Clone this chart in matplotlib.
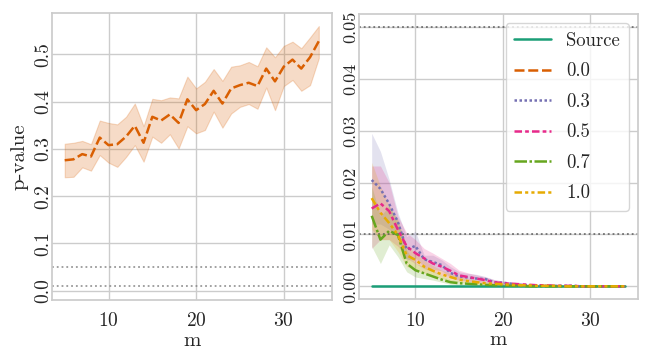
import matplotlib
matplotlib.use("Agg")
import matplotlib.pyplot as plt
import numpy as np
import seaborn as sns

# m values shared by every curve
m = list(range(5, 35))

# left panel: similarity 0.0 (mean p-value with confidence band)
p00 = [0.276, 0.278, 0.289, 0.284, 0.324, 0.308, 0.310, 0.326, 0.349, 0.313,
       0.368, 0.360, 0.373, 0.355, 0.405, 0.382, 0.395, 0.423, 0.396, 0.428,
       0.435, 0.440, 0.433, 0.470, 0.443, 0.474, 0.489, 0.470, 0.494, 0.528]
p00_hi = [0.311, 0.313, 0.317, 0.310, 0.360, 0.355, 0.352, 0.368, 0.396, 0.348,
          0.406, 0.403, 0.409, 0.407, 0.453, 0.428, 0.442, 0.469, 0.444, 0.474,
          0.477, 0.484, 0.475, 0.515, 0.494, 0.518, 0.527, 0.513, 0.536, 0.560]
p00_lo = [0.240, 0.241, 0.261, 0.254, 0.287, 0.271, 0.262, 0.283, 0.308, 0.273,
          0.326, 0.313, 0.331, 0.301, 0.348, 0.333, 0.340, 0.379, 0.345, 0.375,
          0.389, 0.395, 0.385, 0.430, 0.382, 0.433, 0.446, 0.423, 0.435, 0.492]

# right panel
p_src = [0.0] * 30

p03 = [0.0205, 0.0188, 0.0159, 0.0124, 0.0071, 0.0078, 0.0052, 0.0047, 0.0041, 0.0026,
       0.0019, 0.0017, 0.0015, 0.0014, 0.0008, 0.0007, 0.0005, 0.0003, 0.0002, 0.0002,
       0.0001, 0.0001, 0.0001, 0.0001, 0.0, 0.0, 0.0, 0.0, 0.0, 0.0]
p03_hi = [0.0295, 0.0260, 0.0206, 0.0142, 0.0096, 0.0106, 0.0060, 0.0060, 0.0051, 0.0038,
          0.0028, 0.0025, 0.0023, 0.0019, 0.0013, 0.0010, 0.0007, 0.0005, 0.0004, 0.0003,
          0.0002, 0.0002, 0.0001, 0.0001, 0.0001, 0.0, 0.0, 0.0, 0.0, 0.0]
p03_lo = [0.0120, 0.0120, 0.0110, 0.0095, 0.0050, 0.0055, 0.0037, 0.0033, 0.0030, 0.0017,
          0.0011, 0.0010, 0.0008, 0.0008, 0.0004, 0.0004, 0.0002, 0.0001, 0.0001, 0.0,
          0.0, 0.0, 0.0, 0.0, 0.0, 0.0, 0.0, 0.0, 0.0, 0.0]

p05 = [0.0150, 0.0160, 0.0145, 0.0109, 0.0077, 0.0064, 0.0054, 0.0044, 0.0038, 0.0030,
       0.0021, 0.0018, 0.0015, 0.0012, 0.0008, 0.0006, 0.0005, 0.0004, 0.0003, 0.0002,
       0.0002, 0.0001, 0.0001, 0.0001, 0.0, 0.0, 0.0, 0.0, 0.0, 0.0]
p05_hi = [0.0232, 0.0232, 0.0200, 0.0135, 0.0103, 0.0090, 0.0073, 0.0064, 0.0054, 0.0044,
          0.0031, 0.0026, 0.0022, 0.0018, 0.0013, 0.0010, 0.0008, 0.0006, 0.0005, 0.0004,
          0.0003, 0.0002, 0.0002, 0.0001, 0.0001, 0.0, 0.0, 0.0, 0.0, 0.0]
p05_lo = [0.0073, 0.0090, 0.0090, 0.0077, 0.0054, 0.0044, 0.0034, 0.0028, 0.0021, 0.0015,
          0.0012, 0.0010, 0.0008, 0.0006, 0.0004, 0.0003, 0.0002, 0.0001, 0.0001, 0.0,
          0.0, 0.0, 0.0, 0.0, 0.0, 0.0, 0.0, 0.0, 0.0, 0.0]

p07 = [0.0136, 0.0090, 0.0107, 0.0099, 0.0044, 0.0031, 0.0025, 0.0019, 0.0013, 0.0008,
       0.0006, 0.0005, 0.0004, 0.0003, 0.0002, 0.0002, 0.0001, 0.0001, 0.0, 0.0,
       0.0, 0.0, 0.0, 0.0, 0.0, 0.0, 0.0, 0.0, 0.0, 0.0]
p07_hi = [0.0193, 0.0135, 0.0155, 0.0129, 0.0070, 0.0044, 0.0038, 0.0030, 0.0021, 0.0014,
          0.0011, 0.0009, 0.0007, 0.0005, 0.0004, 0.0003, 0.0002, 0.0002, 0.0001, 0.0001,
          0.0, 0.0, 0.0, 0.0, 0.0, 0.0, 0.0, 0.0, 0.0, 0.0]
p07_lo = [0.0077, 0.0044, 0.0080, 0.0057, 0.0028, 0.0018, 0.0015, 0.0012, 0.0008, 0.0004,
          0.0003, 0.0002, 0.0001, 0.0001, 0.0, 0.0, 0.0, 0.0, 0.0, 0.0,
          0.0, 0.0, 0.0, 0.0, 0.0, 0.0, 0.0, 0.0, 0.0, 0.0]

p10 = [0.0170, 0.0142, 0.0122, 0.0099, 0.0060, 0.0051, 0.0038, 0.0030, 0.0023, 0.0018,
       0.0013, 0.0010, 0.0008, 0.0006, 0.0005, 0.0004, 0.0003, 0.0002, 0.0002, 0.0001,
       0.0001, 0.0001, 0.0, 0.0, 0.0, 0.0, 0.0, 0.0, 0.0, 0.0]
p10_hi = [0.0239, 0.0193, 0.0155, 0.0125, 0.0080, 0.0064, 0.0050, 0.0040, 0.0031, 0.0025,
          0.0019, 0.0015, 0.0012, 0.0009, 0.0007, 0.0006, 0.0004, 0.0003, 0.0003, 0.0002,
          0.0002, 0.0001, 0.0001, 0.0, 0.0, 0.0, 0.0, 0.0, 0.0, 0.0]
p10_lo = [0.0110, 0.0090, 0.0090, 0.0067, 0.0038, 0.0031, 0.0025, 0.0020, 0.0015, 0.0011,
          0.0008, 0.0006, 0.0004, 0.0003, 0.0002, 0.0002, 0.0001, 0.0001, 0.0, 0.0,
          0.0, 0.0, 0.0, 0.0, 0.0, 0.0, 0.0, 0.0, 0.0, 0.0]

labels = ["Source", "0.0", "0.3", "0.5", "0.7", "1.0"]
thresholds = [0.05, 0.01]
left_ticks = ["0.0", "0.1", "0.2", "0.3", "0.4", "0.5"]
right_ticks = ["0.00", "0.01", "0.02", "0.03", "0.04", "0.05"]

sns.set_theme(style="whitegrid")
plt.rcParams["font.family"] = "serif"
plt.rcParams["font.serif"] = ["cmr10", "DejaVu Serif"]
plt.rcParams["mathtext.fontset"] = "cm"
plt.rcParams["axes.formatter.use_mathtext"] = True
plt.rcParams["axes.unicode_minus"] = False

colors = sns.color_palette("Dark2", 6)
dashes = ["", (4, 1.5), (1, 1), (3, 1.25, 1.5, 1.25), (5, 1, 1, 1),
          (3, 1.25, 1.25, 1.25, 1.25, 1.25)]
lw = 1.8

fig = plt.figure(figsize=(6.48, 3.63), dpi=100)
ax1 = fig.add_axes([52 / 648, 63 / 363, 279.5 / 648, 286.7 / 363])
ax2 = fig.add_axes([359 / 648, 63.7 / 363, 279 / 648, 285.3 / 363])

# left panel
for t in thresholds:
    ax1.axhline(t, color="gray", linestyle=":", linewidth=1.3, alpha=0.8)
ax1.fill_between(m, p00_lo, p00_hi, color=colors[1], alpha=0.22, linewidth=0.8)
ax1.plot(m, p00, color=colors[1], linewidth=lw, dashes=dashes[1])

# right panel
series = [p_src, None, p03, p05, p07, p10]
lows = [None, None, p03_lo, p05_lo, p07_lo, p10_lo]
highs = [None, None, p03_hi, p05_hi, p07_hi, p10_hi]
for t in thresholds:
    ax2.axhline(t, color="#555555", linestyle=":", linewidth=1.3, alpha=0.8)
handles = []
for i, lab in enumerate(labels):
    if series[i] is None:
        h, = ax2.plot([], [], color=colors[i], linewidth=lw, dashes=dashes[i], label=lab)
    else:
        if lows[i] is not None:
            ax2.fill_between(m, lows[i], highs[i], color=colors[i], alpha=0.2, linewidth=0)
        if dashes[i]:
            h, = ax2.plot(m, series[i], color=colors[i], linewidth=lw, dashes=dashes[i], label=lab)
        else:
            h, = ax2.plot(m, series[i], color=colors[i], linewidth=lw, label=lab)
    handles.append(h)

for ax in (ax1, ax2):
    ax.set_xlim(3.55, 35.45)
    ax.set_xticks([10, 20, 30])
    ax.set_xlabel("m", fontsize=15, labelpad=1)
    ax.tick_params(axis="x", labelsize=14, pad=3)

ax1.set_ylim(-0.0197, 0.587)
ax1.set_yticks([0.0, 0.1, 0.2, 0.3, 0.4, 0.5])
ax1.set_yticklabels(left_ticks, rotation=90, rotation_mode="anchor",
                    ha="center", va="baseline", fontsize=14)
ax1.tick_params(axis="y", length=0, pad=3)
ax1.set_ylabel("p-value", fontsize=15, labelpad=4)

ax2.set_ylim(-0.0025, 0.0525)
ax2.set_yticks([0.0, 0.01, 0.02, 0.03, 0.04, 0.05])
ax2.set_yticklabels(right_ticks, rotation=90, rotation_mode="anchor",
                    ha="center", va="baseline", fontsize=13)
ax2.tick_params(axis="y", length=0, pad=3)

ax2.legend(handles=handles, loc="upper right", fontsize=13.5, handlelength=2.0,
           labelspacing=0.67, borderpad=0.45)

fig.savefig("out.png", dpi=100)
